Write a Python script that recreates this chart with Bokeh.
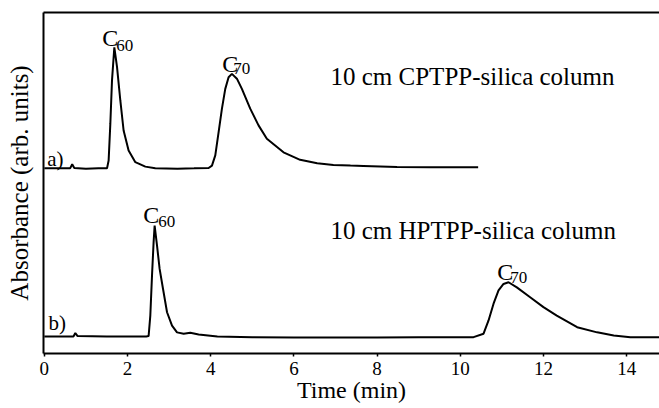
from bokeh.plotting import figure
from bokeh.models import Range1d, LinearAxis, FixedTicker, Label
from bokeh.embed import file_html
from bokeh.resources import INLINE

# Trace a) 10 cm CPTPP-silica column
time_a = [0.0, 0.62, 0.67, 0.72, 1.0, 1.3, 1.507, 1.546, 1.587, 1.627, 1.683, 1.748, 1.827,
          1.906, 2.026, 2.188, 2.428, 2.668, 3.2, 3.6, 3.95, 4.03, 4.11, 4.19, 4.27, 4.35,
          4.43, 4.51, 4.63, 4.75, 4.95, 5.15, 5.35, 5.75, 6.15, 6.56, 6.95, 7.36, 7.67,
          8.48, 9.28, 10.43]
abs_a = [54.3, 54.3, 55.5, 54.4, 54.2, 54.3, 54.3, 56.6, 67.4, 80.1, 89.8, 84.0, 74.2,
         65.4, 59.5, 56.1, 54.8, 54.3, 54.2, 54.3, 54.4, 55.1, 58.1, 64.9, 71.8, 77.6,
         81.0, 82.0, 80.6, 77.6, 71.8, 66.9, 63.0, 59.0, 56.8, 55.8, 55.3, 55.1, 55.0,
         54.7, 54.6, 54.6]

# Trace b) 10 cm HPTPP-silica column
time_b = [0.0, 0.7, 0.745, 0.8, 1.5, 2.0, 2.45, 2.507, 2.548, 2.589, 2.627, 2.652, 2.709,
          2.772, 2.853, 2.95, 3.07, 3.19, 3.35, 3.51, 3.71, 4.16, 5.0, 6.0, 7.0, 8.0, 9.0,
          10.0, 10.32, 10.56, 10.68, 10.80, 10.92, 11.04, 11.16, 11.36, 11.68, 12.0, 12.32,
          12.81, 13.29, 13.69, 14.09, 14.78]
abs_b = [5.0, 5.0, 6.0, 5.1, 5.0, 5.0, 5.0, 5.1, 11.1, 22.9, 32.6, 37.5, 31.7, 24.8, 19.0,
         12.1, 8.2, 6.2, 5.8, 6.1, 5.6, 5.0, 4.8, 4.7, 4.7, 4.7, 4.8, 4.8, 4.8, 5.8, 9.7,
         14.6, 18.5, 20.4, 20.9, 19.4, 16.5, 13.6, 11.1, 7.7, 6.2, 5.3, 4.8, 4.8]

x_ticks = [0, 2, 4, 6, 8, 10, 12, 14]
x_title = "Time (min)"
y_title = "Absorbance (arb. units)"

# Annotations: (text, time, absorbance)
peak_main = [("C", 1.39, 92.4), ("C", 4.28, 85.0), ("C", 2.38, 40.5), ("C", 10.89, 23.8)]
peak_sub = [("60", 1.73, 90.3), ("70", 4.54, 83.6), ("60", 2.74, 38.7), ("70", 11.20, 22.3)]
trace_tags = [("a)", 0.07, 57.0), ("b)", 0.10, 8.8)]
titles = [("10 cm CPTPP-silica column", 6.88, 81.2), ("10 cm HPTPP-silica column", 6.88, 36.1)]

FONT = "Liberation Serif"

p = figure(width=659, height=408, output_backend="svg", toolbar_location=None,
           x_range=Range1d(-0.02, 14.79), y_range=Range1d(0, 100),
           min_border_left=43, min_border_right=0, min_border_top=12, min_border_bottom=55)
p.outline_line_color = None
p.grid.visible = False
p.background_fill_color = "white"
p.border_fill_color = "white"

p.line(time_a, abs_a, line_color="black", line_width=2)
p.line(time_b, abs_b, line_color="black", line_width=2)

# x axis
xa = p.xaxis[0]
xa.ticker = FixedTicker(ticks=x_ticks)
xa.minor_tick_line_color = None
xa.major_tick_in = 0
xa.major_tick_out = 3
xa.major_tick_line_width = 1.5
xa.axis_line_width = 2
xa.major_label_text_font = FONT
xa.major_label_text_font_size = "19px"
xa.major_label_text_color = "black"
xa.major_label_standoff = 5
xa.axis_label = x_title
xa.axis_label_text_font = FONT
xa.axis_label_text_font_size = "24px"
xa.axis_label_text_font_style = "normal"
xa.axis_label_text_color = "black"
xa.axis_label_standoff = -1

# y axis
ya = p.yaxis[0]
ya.ticker = FixedTicker(ticks=[])
ya.minor_tick_line_color = None
ya.major_tick_line_color = None
ya.major_label_text_font_size = "0px"
ya.major_label_standoff = 0
ya.axis_line_width = 2
ya.axis_label = y_title
ya.axis_label_text_font = FONT
ya.axis_label_text_font_size = "25px"
ya.axis_label_text_font_style = "normal"
ya.axis_label_text_color = "black"
ya.axis_label_standoff = 11

# top line
top = LinearAxis(ticker=FixedTicker(ticks=[]), axis_line_width=2,
                 major_tick_line_color=None, minor_tick_line_color=None,
                 major_label_text_font_size="0px", major_label_standoff=0)
p.add_layout(top, "above")

for txt, t, a in peak_main:
    p.add_layout(Label(x=t, y=a, text=txt, text_font=FONT, text_font_size="24px",
                       text_baseline="alphabetic", text_align="left", text_color="black"))
for txt, t, a in peak_sub:
    p.add_layout(Label(x=t, y=a, text=txt, text_font=FONT, text_font_size="17px",
                       text_baseline="alphabetic", text_align="left", text_color="black"))
for txt, t, a in trace_tags:
    p.add_layout(Label(x=t, y=a, text=txt, text_font=FONT, text_font_size="21px",
                       text_baseline="alphabetic", text_align="left", text_color="black"))
for txt, t, a in titles:
    p.add_layout(Label(x=t, y=a, text=txt, text_font=FONT, text_font_size="25px",
                       text_baseline="alphabetic", text_align="left", text_color="black"))

open("out.html", "w").write(file_html(p, INLINE))
